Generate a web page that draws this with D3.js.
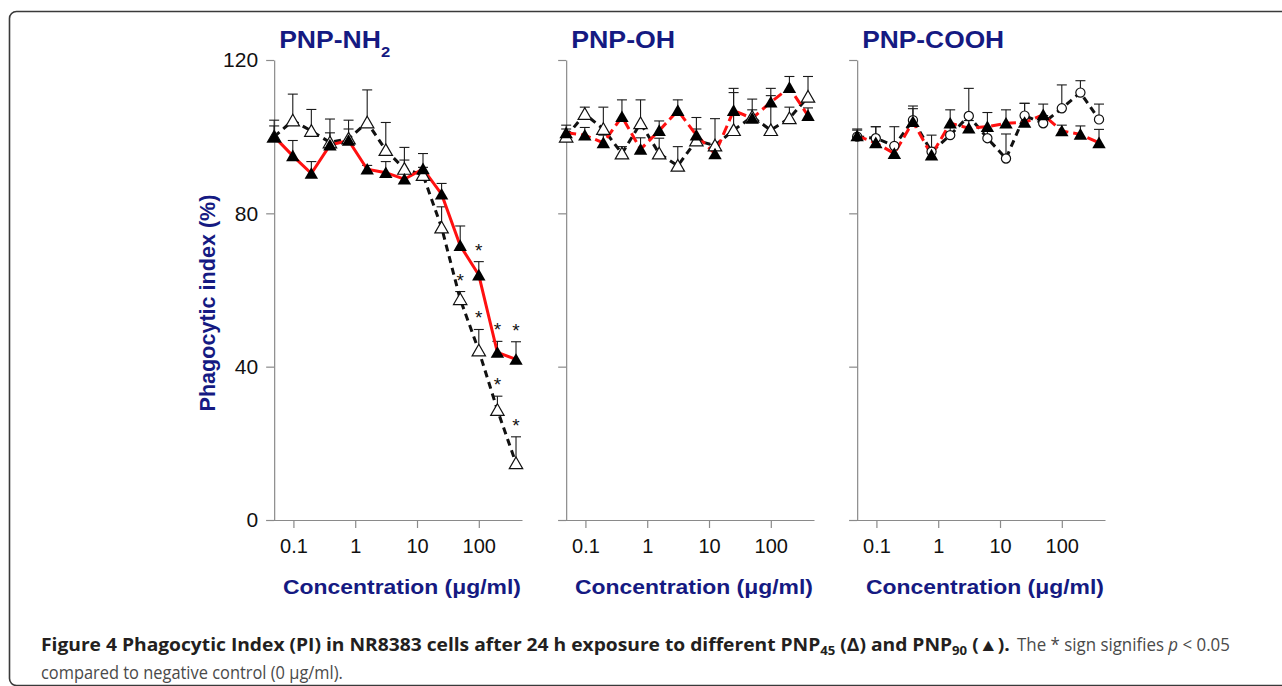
<!DOCTYPE html>
<html><head><meta charset="utf-8">
<script src="https://cdn.jsdelivr.net/npm/d3@7"></script>
<style>body{margin:0;background:#fff}svg{display:block}</style>
</head><body>
<svg id="chart" width="1282" height="686"></svg>
<script>
// ---------- data ----------
const concentrations = [0.0488, 0.0977, 0.195, 0.39, 0.78, 1.5625, 3.125, 6.25, 12.5, 25, 50, 100, 200, 400];
const xTickValues = [0.1, 1, 10, 100];
const xTickLabels = ["0.1", "1", "10", "100"];
const yTickValues = [0, 40, 80, 120];
const yTickLabels = ["0", "40", "80", "120"];
const panelTitles = ["PNP-NH", "PNP-OH", "PNP-COOH"];
const panelTitleSubs = ["2", "", ""];

// PNP-NH2
const nh2_pnp90     = [100, 95, 90.4, 97.8, 99, 91.5, 90.6, 88.9, 91.6, 85, 71.6, 63.9, 43.7, 41.9];
const nh2_pnp90_err = [2.8, 4, 3.1, 6.8, 5.3, 1, 2.9, 5, 4, 2.8, 5.1, 3.5, 2.9, 4.6];
const nh2_pnp45     = [100, 104.2, 101.5, 98.5, 99.5, 103.7, 96.5, 91.6, 90, 76.3, 57.6, 44.2, 28.7, 14.8];
const nh2_pnp45_err = [4.3, 6.9, 5.6, 2.5, 2.5, 8.5, 7.2, 5.6, 2, 5.4, 2, 5.5, 3.6, 6.9];
const nh2_sig90 = [11, 12, 13];
const nh2_sig45 = [10, 11, 12, 13];

// PNP-OH
const oh_pnp90     = [101, 100.4, 98.4, 105.2, 96.7, 101.6, 106.8, 100.4, 95.5, 106.8, 104.8, 109, 112.8, 105.5];
const oh_pnp90_err = [2, 2, 2, 4.4, 3, 2.5, 2.8, 4.6, 2.5, 5.8, 5, 3.6, 2.9, 2];
const oh_pnp45     = [100, 105.9, 102, 95.6, 103.5, 95.6, 92.4, 99, 97.7, 101.7, 105.2, 101.7, 104.8, 110.4];
const oh_pnp45_err = [2, 1.8, 5.7, 1.8, 6.1, 4, 5, 3, 7, 9.8, 1.8, 9, 2.9, 5.3];

// PNP-COOH
const cooh_pnp90     = [100.2, 98.4, 95.6, 103.9, 95.2, 103.5, 102.2, 102.6, 103.5, 103.7, 105.7, 101.5, 100.6, 98.4];
const cooh_pnp90_err = [1.5, 4.2, 2, 4.1, 2, 3.5, 2, 3.7, 3.5, 5, 2.8, 1.5, 2.2, 3.5];
const cooh_pnp45     = [100, 99.6, 97.6, 104.3, 96.1, 100.4, 105.4, 99.6, 94.3, 105.5, 103.5, 107.4, 111.5, 104.5];
const cooh_pnp45_err = [2, 3, 5, 3, 4.3, 2, 7.2, 2, 6.4, 3.2, 2, 6.1, 3.1, 4];

const yAxisTitle = "Phagocytic index (%)";
const xAxisTitle = "Concentration (\u03BCg/ml)";

// ---------- layout ----------
const NAVY = "#151a82";
const RED = "#ff1010";
const panelLeft = [266, 558, 849];
const panelWidth = 256;
const yTop = 60, yBottom = 520;

const panels = [
  {title: panelTitles[0], sub: panelTitleSubs[0], p90: nh2_pnp90, e90: nh2_pnp90_err, p45: nh2_pnp45, e45: nh2_pnp45_err, s90: nh2_sig90, s45: nh2_sig45, redDash: null, open: "triangle", labels: true, titleW: 111},
  {title: panelTitles[1], sub: panelTitleSubs[1], p90: oh_pnp90, e90: oh_pnp90_err, p45: oh_pnp45, e45: oh_pnp45_err, s90: [], s45: [], redDash: "10,5", open: "triangle", labels: false, titleW: 104},
  {title: panelTitles[2], sub: panelTitleSubs[2], p90: cooh_pnp90, e90: cooh_pnp90_err, p45: cooh_pnp45, e45: cooh_pnp45_err, s90: [], s45: [], redDash: "10,5", open: "circle", labels: false, titleW: 142}
];

const svg = d3.select("#chart");

// frame
svg.append("rect").attr("x", 9.5).attr("y", 11.5).attr("width", 1300).attr("height", 674)
  .attr("rx", 7).attr("fill", "none").attr("stroke", "#3a3a3a").attr("stroke-width", 1.6);

const y = d3.scaleLinear().domain([0, 120]).range([yBottom, yTop]);
const triSym = d3.symbol().type(d3.symbolTriangle).size(78);
const circSym = d3.symbol().type(d3.symbolCircle).size(66);

panels.forEach((p, pi) => {
  const x = d3.scaleLog().domain([0.036, 500]).range([panelLeft[pi], panelLeft[pi] + panelWidth]);
  const g = svg.append("g");
  const x0 = x(concentrations[0]);

  const xa = g.append("g").attr("transform", `translate(0,${yBottom})`)
    .call(d3.axisBottom(x).tickValues(xTickValues).tickFormat((d, i) => xTickLabels[i])
      .tickSize(8).tickSizeOuter(0).tickPadding(11));
  const ya = g.append("g").attr("transform", `translate(${x0},0)`)
    .call(d3.axisLeft(y).tickValues(yTickValues).tickFormat((d, i) => p.labels ? yTickLabels[i] : "")
      .tickSize(8).tickSizeOuter(0).tickPadding(8));
  [xa, ya].forEach(a => {
    a.selectAll("path,line").attr("stroke", "#8a8a8a").attr("stroke-width", 1.2);
    a.selectAll("text").attr("fill", "#111").attr("font-family", "Liberation Sans, Arial, sans-serif");
  });
  xa.selectAll("text").attr("font-size", 20);
  ya.selectAll("text").attr("font-size", 21);

  const t = g.append("text").attr("x", x0 + 5).attr("y", 48)
    .attr("font-family", "Liberation Sans, Arial, sans-serif").attr("font-weight", "bold")
    .attr("font-size", 24).attr("fill", NAVY)
    .attr("textLength", p.titleW).attr("lengthAdjust", "spacingAndGlyphs");
  t.append("tspan").text(p.title);
  if (p.sub) t.append("tspan").attr("dy", 9).attr("font-size", 15).text(p.sub);

  g.append("text").attr("x", panelLeft[pi] + panelWidth - 1).attr("y", 594)
    .attr("text-anchor", "end").attr("font-family", "Liberation Sans, Arial, sans-serif")
    .attr("font-weight", "bold").attr("font-size", 20).attr("fill", NAVY)
    .attr("textLength", 238).attr("lengthAdjust", "spacingAndGlyphs").text(xAxisTitle);

  const pts = (vals, errs) => concentrations.map((c, i) => ({c, v: vals[i], e: errs[i]}));
  const d90 = pts(p.p90, p.e90), d45 = pts(p.p45, p.e45);
  const line = d3.line().x(d => x(d.c)).y(d => y(d.v));

  [d45, d90].forEach(ds => {
    const eb = g.append("g").attr("stroke", "#1a1a1a").attr("stroke-width", 1.1);
    ds.forEach(d => {
      eb.append("line").attr("x1", x(d.c)).attr("x2", x(d.c)).attr("y1", y(d.v)).attr("y2", y(d.v + d.e));
      eb.append("line").attr("x1", x(d.c) - 5).attr("x2", x(d.c) + 5).attr("y1", y(d.v + d.e)).attr("y2", y(d.v + d.e));
    });
  });

  g.append("path").datum(d45).attr("d", line).attr("fill", "none").attr("stroke", "#111")
    .attr("stroke-width", 3).attr("stroke-dasharray", "7,5");
  const rl = g.append("path").datum(d90).attr("d", line).attr("fill", "none").attr("stroke", RED)
    .attr("stroke-width", 3);
  if (p.redDash) rl.attr("stroke-dasharray", p.redDash);

  g.append("g").selectAll("path").data(d45).join("path")
    .attr("transform", d => `translate(${x(d.c)},${y(d.v) + (p.open === "triangle" ? 1.5 : 0)})`)
    .attr("d", p.open === "triangle" ? triSym() : circSym())
    .attr("fill", "#fff").attr("stroke", "#111").attr("stroke-width", 1.2);
  g.append("g").selectAll("path").data(d90).join("path")
    .attr("transform", d => `translate(${x(d.c)},${y(d.v) + 1.5})`)
    .attr("d", triSym()).attr("fill", "#000");

  const stars = p.s90.map(i => d90[i]).concat(p.s45.map(i => d45[i]));
  g.append("g").selectAll("text").data(stars).join("text")
    .attr("x", d => x(d.c)).attr("y", d => y(d.v + d.e) - 5)
    .attr("text-anchor", "middle").attr("font-family", "Liberation Sans, Arial, sans-serif")
    .attr("font-size", 19).attr("fill", "#111").text("*");
});

svg.append("text").attr("transform", "translate(215,303) rotate(-90)")
  .attr("text-anchor", "middle").attr("font-family", "Liberation Sans, Arial, sans-serif")
  .attr("font-weight", "bold").attr("font-size", 22).attr("fill", NAVY)
  .attr("textLength", 217).attr("lengthAdjust", "spacingAndGlyphs").text(yAxisTitle);

// caption: condensed by horizontal scaling to match the reference widths
const capFont = "Open Sans, Noto Sans, sans-serif";
function fitX(sel, x0, y0, target) {
  const w = sel.node().getComputedTextLength();
  sel.attr("transform", `translate(${x0},${y0}) scale(${target / w},1)`);
}
const c1 = svg.append("text").attr("font-family", capFont)
  .attr("font-weight", "bold").attr("font-size", 17.5).attr("fill", "#231f20");
c1.append("tspan").text("Figure 4 Phagocytic Index (PI) in NR8383 cells after 24 h exposure to different PNP");
c1.append("tspan").attr("dy", 4).attr("font-size", 12).text("45");
c1.append("tspan").attr("dy", -4).text(" (\u0394) and PNP");
c1.append("tspan").attr("dy", 4).attr("font-size", 12).text("90");
c1.append("tspan").attr("dy", -4).text(" (\u25B2).");
fitX(c1, 41, 651, 969);

const c2 = svg.append("text").attr("font-family", capFont)
  .attr("font-size", 17.5).attr("fill", "#4a4a4a")
  .html('The * sign signifies <tspan font-style="italic">p</tspan> &lt; 0.05');
fitX(c2, 1017, 651, 213);

const c3 = svg.append("text").attr("font-family", capFont)
  .attr("font-size", 17.5).attr("fill", "#4a4a4a")
  .text("compared to negative control (0 \u03BCg/ml).");
fitX(c3, 41, 679, 302);
</script>
</body></html>
